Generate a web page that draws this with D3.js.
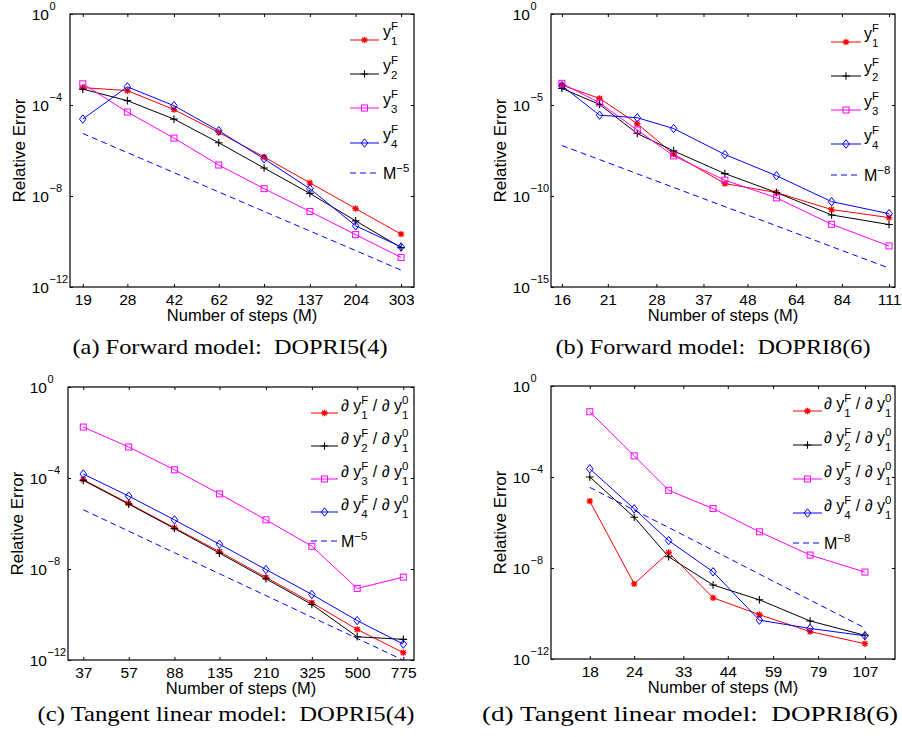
<!DOCTYPE html>
<html>
<head>
<meta charset="utf-8">
<script src="https://cdn.jsdelivr.net/npm/d3@7"></script>
<style>
body { margin: 0; background: #fff; }
svg { display: block; }
</style>
</head>
<body>
<div id="chart"></div>
<script>
// (a) forward model, DOPRI5(4)
var stepsA = [19, 28, 42, 62, 92, 137, 204, 303];
var ticksA = [19, 28, 42, 62, 92, 137, 204, 303];
var y1A = [5.8e-4, 4.3e-4, 6.3e-5, 6.2e-6, 5.2e-7, 3.8e-8, 2.8e-9, 2.1e-10];
var y2A = [5.0e-4, 1.55e-4, 2.4e-5, 2.2e-6, 1.7e-7, 1.3e-8, 8.1e-10, 5.4e-11];
var y3A = [8.5e-4, 4.9e-5, 3.5e-6, 2.3e-7, 2.1e-8, 2.1e-9, 2.0e-10, 2.0e-11];
var y4A = [2.4e-5, 6.3e-4, 9.3e-5, 7.4e-6, 4.3e-7, 2.1e-8, 4.9e-10, 5.8e-11];
var refA = [5.6e-6, 8.1e-7, 1.07e-7, 1.5e-8, 2.1e-9, 2.9e-10, 4.0e-11, 5.5e-12];

// (b) forward model, DOPRI8(6)
var stepsB = [16, 20, 25, 31, 42, 57, 79, 111];
var ticksB = [16, 21, 28, 37, 48, 64, 84, 111];
var y1B = [1.23e-4, 2.3e-5, 9.3e-7, 2.0e-8, 4.8e-10, 1.55e-10, 1.8e-11, 6.5e-12];
var y2B = [8.1e-5, 1.07e-5, 2.7e-7, 3.0e-8, 1.7e-9, 1.55e-10, 9.1e-12, 2.7e-12];
var y3B = [1.55e-4, 1.3e-5, 4.2e-7, 1.6e-8, 7.4e-10, 7.9e-11, 2.8e-12, 1.8e-13];
var y4B = [1.15e-4, 2.75e-6, 2.0e-6, 5.1e-7, 1.9e-8, 1.3e-9, 4.9e-11, 1.07e-11];
var refB = [5.9e-8, 1.0e-8, 1.66e-9, 2.95e-10, 2.6e-11, 2.3e-12, 1.66e-13, 1.1e-14];

// (c) tangent linear model, DOPRI5(4)
var stepsC = [37, 57, 88, 135, 210, 325, 500, 775];
var ticksC = [37, 57, 88, 135, 210, 325, 500, 775];
var y1C = [8.5e-5, 7.6e-6, 6.5e-7, 5.8e-8, 4.3e-9, 3.3e-10, 2.2e-11, 2.1e-12];
var y2C = [7.9e-5, 7.1e-6, 6.0e-7, 5.0e-8, 3.7e-9, 2.75e-10, 1.05e-11, 8.1e-12];
var y3C = [1.74e-2, 2.3e-3, 2.3e-4, 2.0e-5, 1.45e-6, 1.0e-7, 1.4e-9, 4.4e-9];
var y4C = [1.5e-4, 1.6e-5, 1.45e-6, 1.23e-7, 9.5e-9, 7.6e-10, 5.4e-11, 5.0e-12];
var refC = [4.0e-6, 4.6e-7, 5.2e-8, 6.2e-9, 6.8e-10, 7.6e-11, 8.9e-12, 9.8e-13];

// (d) tangent linear model, DOPRI8(6)
var stepsD = [18, 24, 30, 40, 54, 75, 107];
var ticksD = [18, 24, 33, 44, 59, 79, 107];
var y1D = [8.7e-6, 2.0e-9, 4.8e-8, 4.9e-10, 8.9e-11, 1.6e-11, 4.7e-12];
var y2D = [1.0e-4, 1.7e-6, 3.1e-8, 1.8e-9, 4.0e-10, 4.7e-11, 1.1e-11];
var y3D = [7.4e-2, 8.5e-4, 2.6e-5, 4.1e-6, 3.9e-7, 3.7e-8, 6.6e-9];
var y4D = [2.3e-4, 4.0e-6, 1.6e-7, 6.8e-9, 5.1e-11, 2.2e-11, 1.05e-11];
var refD = [3.5e-5, 3.5e-6, 6.0e-7, 6.0e-8, 5.4e-9, 3.9e-10, 2.3e-11];

var yTicksA = [1, 1e-4, 1e-8, 1e-12];
var yTicksB = [1, 1e-5, 1e-10, 1e-15];

var colors = ["#ff0000", "#000000", "#ff00ff", "#0000ff"];
var markers = ["star", "plus", "square", "diamond"];
var sans = "'Liberation Sans', Arial, Helvetica, sans-serif";

var W = 902, H = 737;
var svg = d3.select("#chart").append("svg")
    .attr("width", W)
    .attr("height", H);

var panels = [
    {id: "a", box: [70, 414, 14, 287], xDom: [17, 339], yDom: [1e-12, 1], xTicks: ticksA, yTicks: yTicksA,
     steps: stepsA, series: [y1A, y2A, y3A, y4A], ref: refA, refExp: "\u22125", deriv: false,
     leg: {x0: 350, x1: 379, tx: 383, rows: [40, 74, 108, 143, 173]},
     caption: "(a) Forward model:  DOPRI5(4)", capX: 230, capY: 354, capW: 315},
    {id: "b", box: [551, 895, 14, 287], xDom: [15, 115], yDom: [1e-15, 1], xTicks: ticksB, yTicks: yTicksB,
     steps: stepsB, series: [y1B, y2B, y3B, y4B], ref: refB, refExp: "\u22128", deriv: false,
     leg: {x0: 831, x1: 861, tx: 864, rows: [42, 76, 110, 144, 175]},
     caption: "(b) Forward model:  DOPRI8(6)", capX: 713, capY: 354, capW: 315},
    {id: "c", box: [68, 414, 387, 660], xDom: [32, 858], yDom: [1e-12, 1], xTicks: ticksC, yTicks: yTicksA,
     steps: stepsC, series: [y1C, y2C, y3C, y4C], ref: refC, refExp: "\u22125", deriv: true,
     leg: {x0: 311, x1: 338, tx: 341, rows: [413, 446, 479, 512, 541]},
     caption: "(c) Tangent linear model:  DOPRI5(4)", capX: 226, capY: 721, capW: 377},
    {id: "d", box: [551, 895, 386, 659], xDom: [14, 130], yDom: [1e-12, 1], xTicks: ticksD, yTicks: yTicksA,
     steps: stepsD, series: [y1D, y2D, y3D, y4D], ref: refD, refExp: "\u22128", deriv: true,
     leg: {x0: 793, x1: 822, tx: 824, rows: [411, 445, 479, 513, 543]},
     caption: "(d) Tangent linear model:  DOPRI8(6)", capX: 690, capY: 721, capW: 416}
];

function drawMarker(g, type, x, y, color) {
    if (type == "star") {
        var r = 3.2;
        var p = "M" + (x - r) + "," + y + "H" + (x + r) + "M" + x + "," + (y - r) + "V" + (y + r)
            + "M" + (x - r * 0.75) + "," + (y - r * 0.75) + "L" + (x + r * 0.75) + "," + (y + r * 0.75)
            + "M" + (x - r * 0.75) + "," + (y + r * 0.75) + "L" + (x + r * 0.75) + "," + (y - r * 0.75);
        g.append("path").attr("d", p).attr("stroke", color).attr("stroke-width", 1.3).attr("fill", "none");
    } else if (type == "plus") {
        var r = 3.8;
        g.append("path")
            .attr("d", "M" + (x - r) + "," + y + "H" + (x + r) + "M" + x + "," + (y - r) + "V" + (y + r))
            .attr("stroke", color).attr("stroke-width", 1.1).attr("fill", "none");
    } else if (type == "square") {
        g.append("rect").attr("x", x - 3).attr("y", y - 3).attr("width", 6).attr("height", 6)
            .attr("stroke", color).attr("stroke-width", 1).attr("fill", "none");
    } else {
        g.append("path")
            .attr("d", "M" + x + "," + (y - 4.2) + "L" + (x + 3.3) + "," + y + "L" + x + "," + (y + 4.2) + "L" + (x - 3.3) + "," + y + "Z")
            .attr("stroke", color).attr("stroke-width", 1).attr("fill", "none");
    }
}

// text with stacked super/subscripts; parts: {t} or {sup, sub}
function richText(g, x, y, parts) {
    var cx = x;
    parts.forEach(function(p) {
        if (p.t != null) {
            var t = g.append("text").attr("x", cx).attr("y", y)
                .attr("font-family", sans).attr("font-size", 16).attr("fill", "#000")
                .style("white-space", "pre").text(p.t);
            cx += t.node().getComputedTextLength();
        } else {
            var w = 0;
            if (p.sup) {
                var s = g.append("text").attr("x", cx).attr("y", y - 7)
                    .attr("font-family", sans).attr("font-size", 11.5).text(p.sup);
                w = Math.max(w, s.node().getComputedTextLength());
            }
            if (p.sub) {
                var b = g.append("text").attr("x", cx).attr("y", y + 8)
                    .attr("font-family", sans).attr("font-size", 11.5).text(p.sub);
                w = Math.max(w, b.node().getComputedTextLength());
            }
            cx += w;
        }
    });
}

panels.forEach(function(P) {
    var x0 = P.box[0], x1 = P.box[1], y0 = P.box[2], y1 = P.box[3];
    var x = d3.scaleLog().domain(P.xDom).range([x0, x1]);
    var y = d3.scaleLog().domain(P.yDom).range([y1, y0]);
    var g = svg.append("g").attr("class", "panel-" + P.id);

    g.append("clipPath").attr("id", "clip-" + P.id)
        .append("rect").attr("x", x0).attr("y", y0).attr("width", x1 - x0).attr("height", y1 - y0);

    // ticks (inward, all four sides)
    var axB = g.append("g").attr("transform", "translate(0," + y1 + ")")
        .call(d3.axisBottom(x).tickValues(P.xTicks).tickSize(-3).tickPadding(7).tickFormat(d3.format("d")));
    var axT = g.append("g").attr("transform", "translate(0," + y0 + ")")
        .call(d3.axisTop(x).tickValues(P.xTicks).tickSize(-3).tickFormat(""));
    var axL = g.append("g").attr("transform", "translate(" + x0 + ",0)")
        .call(d3.axisLeft(y).tickValues(P.yTicks).tickSize(-3).tickFormat(""));
    var axR = g.append("g").attr("transform", "translate(" + x1 + ",0)")
        .call(d3.axisRight(y).tickValues(P.yTicks).tickSize(-3).tickFormat(""));
    [axB, axT, axL, axR].forEach(function(a) {
        a.select(".domain").remove();
        a.selectAll("line").attr("stroke", "#000").attr("stroke-width", 1);
    });
    axB.selectAll("text").attr("font-family", sans).attr("font-size", 15.5).attr("fill", "#000");

    // y tick labels: 10 with exponent
    P.yTicks.forEach(function(v) {
        var ty = y(v);
        var e = Math.round(Math.log10(v));
        g.append("text").attr("x", x0 - 21).attr("y", ty + 5.5).attr("text-anchor", "end")
            .attr("font-family", sans).attr("font-size", 15.5).text("10");
        g.append("text").attr("x", x0 - 20.5).attr("y", ty - 4.5)
            .attr("font-family", sans).attr("font-size", 11).text(e < 0 ? "\u2212" + (-e) : "" + e);
    });

    // axis titles
    g.append("text").attr("x", (x0 + x1) / 2).attr("y", y1 + 34).attr("text-anchor", "middle")
        .attr("font-family", sans).attr("font-size", 16.5).text("Number of steps (M)");
    g.append("text").attr("transform", "translate(" + (x0 - 45) + "," + ((y0 + y1) / 2) + ") rotate(-90)")
        .attr("text-anchor", "middle").attr("font-family", sans).attr("font-size", 17).text("Relative Error");

    // data
    var plot = g.append("g").attr("clip-path", "url(#clip-" + P.id + ")");
    var line = d3.line()
        .x(function(d, i) { return x(P.steps[i]); })
        .y(function(d) { return y(d); });

    plot.append("path").datum(P.ref).attr("d", line)
        .attr("fill", "none").attr("stroke", "#0000ff").attr("stroke-width", 1)
        .attr("stroke-dasharray", "6,4");

    P.series.forEach(function(s, k) {
        plot.append("path").datum(s).attr("d", line)
            .attr("fill", "none").attr("stroke", colors[k]).attr("stroke-width", 1);
    });
    P.series.forEach(function(s, k) {
        var mg = g.append("g");
        s.forEach(function(v, i) { drawMarker(mg, markers[k], x(P.steps[i]), y(v), colors[k]); });
    });

    // legend
    var L = P.leg;
    var lg = g.append("g");
    P.series.forEach(function(s, k) {
        var ry = L.rows[k];
        lg.append("line").attr("x1", L.x0).attr("x2", L.x1).attr("y1", ry).attr("y2", ry)
            .attr("stroke", colors[k]).attr("stroke-width", 1);
        drawMarker(lg, markers[k], (L.x0 + L.x1) / 2, ry, colors[k]);
        var sub = String(k + 1);
        if (P.deriv) {
            richText(lg, L.tx, ry - 2, [{t: "\u2202 y"}, {sup: "F", sub: sub}, {t: " / \u2202 y"}, {sup: "0", sub: "1"}]);
        } else {
            richText(lg, L.tx, ry - 3, [{t: "y"}, {sup: "F", sub: sub}]);
        }
    });
    var rr = L.rows[4];
    lg.append("line").attr("x1", L.x0).attr("x2", L.x1).attr("y1", rr).attr("y2", rr)
        .attr("stroke", "#0000ff").attr("stroke-width", 1).attr("stroke-dasharray", "6,4");
    richText(lg, L.tx, rr + 6, [{t: "M"}, {sup: P.refExp}]);

    // frame
    g.append("rect").attr("x", x0).attr("y", y0).attr("width", x1 - x0).attr("height", y1 - y0)
        .attr("fill", "none").attr("stroke", "#111").attr("stroke-width", 1.3);

    // caption
    g.append("text").attr("x", P.capX).attr("y", P.capY).attr("text-anchor", "middle")
        .attr("font-family", "'Liberation Serif', 'DejaVu Serif', serif").attr("font-size", 21)
        .attr("textLength", P.capW).attr("lengthAdjust", "spacingAndGlyphs")
        .style("white-space", "pre").text(P.caption);
});
</script>
</body>
</html>
